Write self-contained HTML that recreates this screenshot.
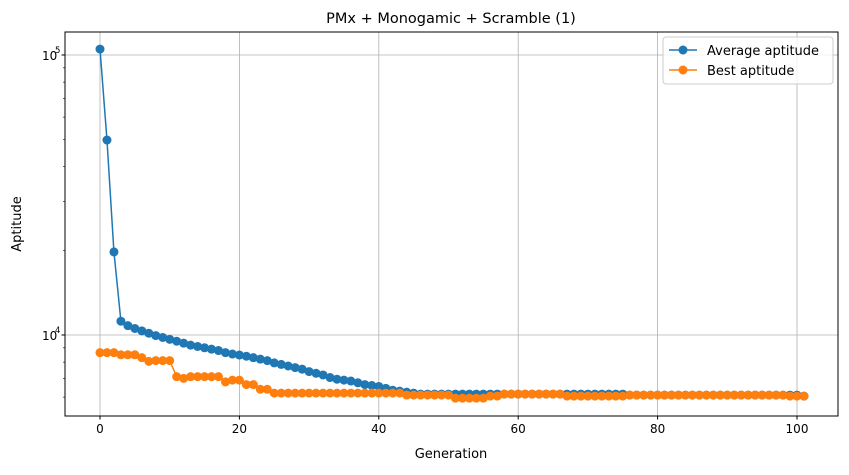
<!DOCTYPE html>
<html><head><meta charset="utf-8"><style>
body{margin:0;background:#fff}
svg text{font-family:"DejaVu Sans","Liberation Sans",sans-serif;fill:#000}
</style></head><body>
<svg width="849" height="470" viewBox="0 0 849 470">
<g id="grid"></g>
<g id="series"></g>
<rect x="65" y="32" width="773" height="384" fill="none" stroke="#000" stroke-width="1"/>
<g id="axes"></g>
<text x="451" y="23" font-size="14.5" text-anchor="middle">PMx + Monogamic + Scramble (1)</text>
<text x="451" y="458" font-size="13" text-anchor="middle">Generation</text>
<text x="21" y="224" font-size="13" text-anchor="middle" transform="rotate(-90 21 224)">Aptitude</text>
<g>
<rect x="663" y="37" width="170" height="47" rx="3" fill="#fff" fill-opacity="0.8" stroke="#ccc"/>
<g>
<line x1="669" y1="50" x2="697" y2="50" stroke="#1f77b4" stroke-width="1.5"/><circle cx="683" cy="50" r="4.5" fill="#1f77b4"/>
<text x="707" y="55" font-size="13">Average aptitude</text></g>
<g>
<line x1="669" y1="70" x2="697" y2="70" stroke="#ff7f0e" stroke-width="1.5"/><circle cx="683" cy="70" r="4.5" fill="#ff7f0e"/>
<text x="707" y="75" font-size="13">Best aptitude</text></g>
</g>
</svg>
<script>
const avgValues=[105000,49700,19800,11200,10800,10550,10350,10150,9950,9800,9650,9500,9350,9200,9100,9000,8900,8800,8650,8550,8480,
8400,8300,8200,8100,7950,7850,7750,7650,7550,7400,7300,7200,7050,6950,6900,6850,6750,6650,6600,6550,
6450,6350,6300,6250,6200,6150,6150,6150,6150,6150,
6150,6150,6150,6150,6150,6150,6150,6150,6150,6150,6150,6150,6150,6150,6150,6150,6150,6150,6150,6150,6150,6150,6150,6150,6150,
6100,6100,6100,6100,6100,6100,6100,6100,6100,6100,6100,6100,6100,6100,6100,6100,6100,6100,6100,6100,6100,6100,6100,6100,6100,6050];
const bestValues=[8650,8650,8650,8500,8500,8500,8300,8050,8100,8100,8100,7100,7000,7100,7100,7100,7100,7100,6800,6900,6900,6650,6650,6400,6400,
6200,6200,6200,6200,6200,6200,6200,6200,6200,6200,6200,6200,6200,6200,6200,6200,6200,6200,6200,
6100,6100,6100,6100,6100,6100,6100,5950,5950,5950,5950,5950,6050,6050,
6150,6150,6150,6150,6150,6150,6150,6150,6150,6050,6050,6050,6050,6050,6050,6050,6050,6050,
6100,6100,6100,6100,6100,6100,6100,6100,6100,6100,6100,6100,6100,6100,6100,6100,6100,6100,6100,6100,6100,6100,6100,6050,6050,6050];
const xTicks=[0,20,40,60,80,100];
const yMajor=[10000,100000];
const yMajorLabels=["4","5"];
const yMinor=[6000,7000,8000,9000,20000,30000,40000,50000,60000,70000,80000,90000];
const NS="http://www.w3.org/2000/svg";
const X=v=>100+v*6.97;
const Y=v=>335-(Math.log10(v)-4)*280;
function mk(tag,attrs,parent){const e=document.createElementNS(NS,tag);for(const k in attrs)e.setAttribute(k,attrs[k]);parent.appendChild(e);return e;}
const grid=document.getElementById('grid'),axes=document.getElementById('axes'),ser=document.getElementById('series');
xTicks.forEach(t=>{
 const g=mk('line',{x1:X(t),x2:X(t),y1:32,y2:416,stroke:'#b0b0b0','stroke-width':0.8},grid);
 
 
 mk('line',{x1:X(t),x2:X(t),y1:416,y2:419.5,stroke:'#000'},axes);
 const tx=mk('text',{x:X(t),y:433,'font-size':12,'text-anchor':'middle'},axes);
 tx.textContent=t;
 
 
});
yMajor.forEach((t,i)=>{
 const g=mk('line',{x1:65,x2:838,y1:Y(t),y2:Y(t),stroke:'#b0b0b0','stroke-width':0.8},grid);
 
 
 mk('line',{x1:61.5,x2:65,y1:Y(t),y2:Y(t),stroke:'#000'},axes);
 const tx=mk('text',{x:42,y:Y(t)+5,'font-size':12},axes);
 tx.textContent="10";
 
 
 const s=mk('text',{x:55,y:Y(t)-2,'font-size':8.5},axes);
 s.textContent=yMajorLabels[i];
});
yMinor.forEach(t=>{const y=Y(t);if(y>32&&y<416)mk('line',{x1:63,x2:65,y1:y,y2:y,stroke:'#000','stroke-width':0.6},axes);});
function drawSeries(vals,color,name){
 const g=mk('g',{},ser);
 
 
 mk('polyline',{points:vals.map((v,i)=>X(i)+','+Y(v)).join(' '),fill:'none',stroke:color,'stroke-width':1.5},g);
 vals.forEach((v,i)=>{
  const c=mk('circle',{cx:X(i),cy:Y(v),r:4.5,fill:color},g);
  
  
 });
}
drawSeries(avgValues,'#1f77b4','average-aptitude-series');
drawSeries(bestValues,'#ff7f0e','best-aptitude-series');
</script>
</body></html>
